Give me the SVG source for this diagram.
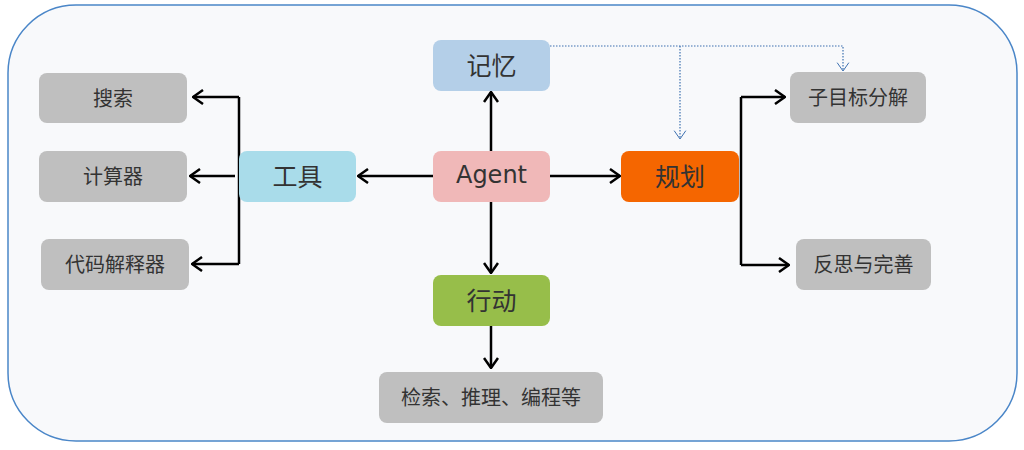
<svg xmlns="http://www.w3.org/2000/svg" width="1024" height="450" viewBox="0 0 1024 450">
<style>
.node rect{stroke:none}
.t{font-family:"Noto Sans CJK SC","Liberation Sans",sans-serif;fill:#333333;text-anchor:middle;dominant-baseline:central}
.big{font-size:25px}
.latin{font-family:"DejaVu Sans","Noto Sans CJK SC",sans-serif;font-size:24px}
.small{font-size:20px}
.grey rect{fill:#bfbfbf}
.edge{fill:none;stroke:#000;stroke-width:2.5;marker-end:url(#arr)}
.line{fill:none;stroke:#000;stroke-width:2.5}
.dot{fill:none;stroke:#3d70b0;stroke-width:1.2;stroke-dasharray:1.5 1.5}
</style>
<defs>
<marker id="arr" viewBox="0 0 12 16" refX="11" refY="8" markerWidth="12" markerHeight="16" markerUnits="userSpaceOnUse" orient="auto">
<path d="M1,1 L11,8 L1,15" fill="none" stroke="#000" stroke-width="2.5"/>
</marker>
<marker id="arrb" viewBox="0 0 12 16" refX="11" refY="8" markerWidth="10" markerHeight="14" markerUnits="userSpaceOnUse" orient="auto">
<path d="M1,1 L11,8 L1,15" fill="none" stroke="#3d70b0" stroke-width="1.2"/>
</marker>
</defs>
<rect x="0" y="0" width="1024" height="450" fill="#ffffff"/>
<rect x="8" y="5" width="1009" height="436" rx="68" ry="68" fill="#f8f9fb" stroke="#4a86c8" stroke-width="1.5"/>

<g id="connectors">
<path class="edge" d="M491,151 L491,92"/>
<path class="edge" d="M433,176 L358,176"/>
<path class="edge" d="M550,176 L620,176"/>
<path class="edge" d="M491,202 L491,273"/>
<path class="edge" d="M491,326 L491,368"/>
<path class="line" d="M239,97 L239,264"/>
<path class="edge" d="M239,97 L193,97"/>
<path class="edge" d="M235,176 L190,176"/>
<path class="edge" d="M239,264 L192,264"/>
<path class="line" d="M741,97 L741,265"/>
<path class="edge" d="M741,97 L785,97"/>
<path class="edge" d="M741,265 L789,265"/>
<path class="dot" d="M550,46 L843,46 L843,71" marker-end="url(#arrb)"/>
<path class="dot" d="M680,46 L680,139" marker-end="url(#arrb)"/>
</g>

<g id="memory" class="node"><rect x="433" y="40" width="117" height="51" rx="8" fill="#b4cfe8"/><text class="t big" x="491.5" y="64">记忆</text></g>
<g id="agent" class="node"><rect x="433" y="151" width="117" height="51" rx="8" fill="#f0b8b8"/><text class="t latin" x="491.5" y="175">Agent</text></g>
<g id="planning" class="node"><rect x="621" y="151" width="118" height="51" rx="8" fill="#f56600"/><text class="t big" x="680" y="175">规划</text></g>
<g id="tools" class="node"><rect x="239" y="151" width="117" height="51" rx="8" fill="#a9dcea"/><text class="t big" x="297.5" y="175">工具</text></g>
<g id="action" class="node"><rect x="433" y="275" width="117" height="51" rx="8" fill="#97be4a"/><text class="t big" x="491.5" y="299">行动</text></g>

<g id="search" class="node grey"><rect x="39" y="73" width="148" height="50" rx="8"/><text class="t small" x="113" y="97">搜索</text></g>
<g id="calculator" class="node grey"><rect x="39" y="151" width="148" height="51" rx="8"/><text class="t small" x="113" y="175">计算器</text></g>
<g id="interpreter" class="node grey"><rect x="41" y="239" width="148" height="51" rx="8"/><text class="t small" x="115" y="263">代码解释器</text></g>
<g id="subgoal" class="node grey"><rect x="790" y="72" width="136" height="51" rx="8"/><text class="t small" x="858" y="96">子目标分解</text></g>
<g id="reflect" class="node grey"><rect x="796" y="239" width="135" height="51" rx="8"/><text class="t small" x="863.5" y="263">反思与完善</text></g>
<g id="retrieve" class="node grey"><rect x="379" y="372" width="224" height="51" rx="8"/><text class="t small" x="491" y="396">检索、推理、编程等</text></g>
</svg>
